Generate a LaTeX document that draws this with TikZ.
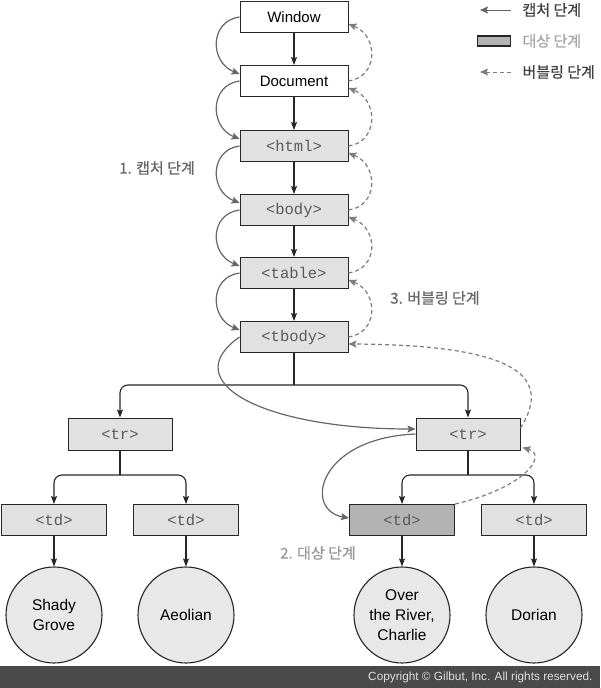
\documentclass[tikz,border=0pt]{standalone}
\usepackage{fontspec}
\setmainfont{Liberation Sans}
\setmonofont{Liberation Mono}
\newfontfamily\kofont[FakeBold=0.6]{Noto Sans CJK KR}
\usetikzlibrary{arrows.meta,positioning,calc}
\definecolor{tagfill}{HTML}{E1E1E1}
\definecolor{tgtfill}{HTML}{B3B3B3}
\definecolor{ballfill}{HTML}{E8E8E8}
\definecolor{phase}{HTML}{666666}
\definecolor{footgray}{HTML}{4A4A4A}

\begin{document}
\begin{tikzpicture}[x=1pt, y=-1pt,
    box/.style={draw=black!85, line width=1pt, minimum width=108pt, minimum height=31pt, inner sep=0pt, fill=white, font=\fontsize{15}{18}\selectfont},
    tag/.style={box, fill=tagfill, text=black!65, font=\ttfamily\fontsize{15.5}{18}\selectfont},
    ball/.style={circle, draw=black!85, line width=1.1pt, fill=ballfill, minimum size=96pt, inner sep=0pt, align=center, font=\fontsize{15.5}{20}\selectfont},
    arr/.style={-{Stealth[length=8pt, width=6pt, inset=1.5pt]}, line width=1.1pt, black!85},
    tline/.style={line width=1.1pt, black!85},
    capt/.style={-{Stealth[length=8pt, width=7pt, inset=1.5pt]}, line width=1.2pt, phase},
    bubl/.style={-{Stealth[length=8pt, width=7pt, inset=1.5pt]}, line width=1.2pt, phase!85, dash pattern=on 4pt off 3pt},
    lbl/.style={font=\kofont\fontsize{15}{17}\selectfont, text=phase},
    legtxt/.style={font=\kofont\fontsize{15}{17}\selectfont, anchor=west}
]
\useasboundingbox (0,0) rectangle (600,688);

% stack of ancestors
\node[box] (win) at (294,17) {Window};
\node[box] (doc) at (294,81) {Document};
\node[tag] (html) at (294,146) {<html>};
\node[tag] (body) at (294,210) {<body>};
\node[tag] (tbl) at (294,273) {<table>};
\node[tag] (tbody) at (294,337) {<tbody>};

% rows and cells
\node[tag, minimum width=104pt, minimum height=32pt] (trL) at (120,434) {<tr>};
\node[tag, minimum width=104pt, minimum height=32pt] (trR) at (468,434) {<tr>};
\node[tag, minimum width=105pt] (tdA) at (54,520) {<td>};
\node[tag, minimum width=105pt] (tdB) at (186,520) {<td>};
\node[tag, minimum width=105pt, fill=tgtfill] (tdC) at (402,520) {<td>};
\node[tag, minimum width=105pt] (tdD) at (534,520) {<td>};

\node[ball] (cA) at (54,615) {Shady\\Grove};
\node[ball] (cB) at (186,615) {Aeolian};
\node[ball] (cC) at (402,615) {Over\\the River,\\Charlie};
\node[ball] (cD) at (534,615) {Dorian};

% tree edges
\foreach \a/\b in {win/doc, doc/html, html/body, body/tbl, tbl/tbody, tdA/cA, tdB/cB, tdC/cC, tdD/cD}
    \draw[arr] (\a.south) -- (\b.north);

\coordinate (j0) at (294,385);
\coordinate (j1) at (120,475);
\coordinate (j2) at (468,475);
\draw[tline] (tbody.south) -- (j0);
\draw[arr, rounded corners=8pt] (j0) -| (trL.north);
\draw[arr, rounded corners=8pt] (j0) -| (trR.north);
\draw[tline] (trL.south) -- (j1);
\draw[arr, rounded corners=8pt] (j1) -| (tdA.north);
\draw[arr, rounded corners=8pt] (j1) -| (tdB.north);
\draw[tline] (trR.south) -- (j2);
\draw[arr, rounded corners=8pt] (j2) -| (tdC.north);
\draw[arr, rounded corners=8pt] (j2) -| (tdD.north);

% capture phase
\foreach \a/\b in {win/doc, doc/html, html/body, body/tbl, tbl/tbody}
    \draw[capt] (\a.west) .. controls +(-30,4) and +(-30,-12) .. ([yshift=7pt]\b.west);
\draw[capt] (tbody.west) .. controls (175,382) and (263,429) .. ([yshift=5pt]trR.west);
\draw[capt] (trR.west) .. controls (318,438) and (303,510) .. ([yshift=2pt]tdC.west);

% bubbling phase
\foreach \a/\b in {win/doc, doc/html, html/body, body/tbl, tbl/tbody}
    \draw[bubl] (\b.east) .. controls +(30,-4) and +(30,12) .. ([yshift=-7pt]\a.east);
\draw[bubl] (tdC.north east) .. controls (525,488) and (548,455) .. ([xshift=2pt,yshift=3pt]trR.south east);
\draw[bubl] ([yshift=6pt]trR.east) .. controls (552,378) and (520,345) .. ([yshift=-7pt]tbody.east);

% phase labels
\node[lbl] (l1) at (157,168) {1. 캡처 단계};
\node[lbl, text=black!40] (l2) at (318,553) {2. 대상 단계};
\node[lbl] (l3) at (435,298) {3. 버블링 단계};

% legend
\coordinate (lc1) at (511,10);
\coordinate (lc0) at (480,10);
\draw[capt, line width=1pt] (lc1) -- (lc0);
\node[legtxt, text=black!75] (lcap) at (519,10) {캡처 단계};
\node[draw=black!85, line width=1.1pt, fill=tgtfill, minimum width=33pt, minimum height=10pt, inner sep=0pt] (ltgt) at (494,41) {};
\node[legtxt, text=black!35] (ltxt) at (519,41) {대상 단계};
\coordinate (lb1) at (511,72);
\coordinate (lb0) at (480,72);
\draw[bubl, line width=1pt] (lb1) -- (lb0);
\node[legtxt, text=black!75] (lbub) at (519,72) {버블링 단계};

% footer
\fill[footgray] (0,666) rectangle (600,688);
\node[anchor=east, text=white!88!black, font=\fontsize{11.8}{13}\selectfont] (copy) at (596,677) {Copyright © Gilbut, Inc. All rights reserved.};
\end{tikzpicture}
\end{document}
